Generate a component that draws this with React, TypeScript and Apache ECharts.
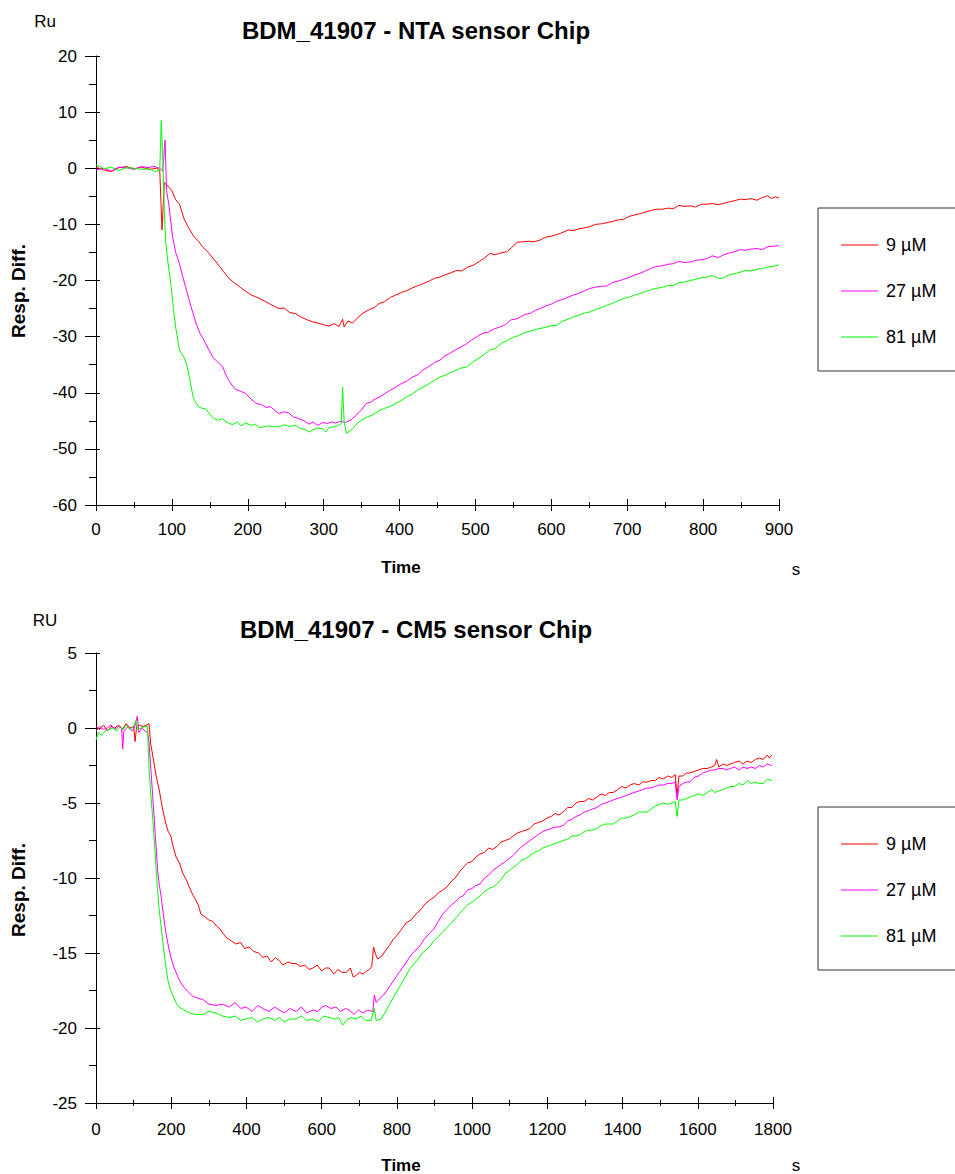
import React, { useEffect, useRef } from "react";
import * as echarts from "echarts";

// ---------- DATA ----------
const seriesNames = ["9 µM", "27 µM", "81 µM"];
const seriesColors = ["#ff0000", "#ff00ff", "#00ff00"];
const titles = ["BDM_41907 - NTA sensor Chip", "BDM_41907 - CM5 sensor Chip"];
const unitLabels = ["Ru", "RU"];

// NTA chip [time s, response]
const nta9: number[][] = [
  [0, 0.2], [10, -0.3], [20, -0.6], [30, 0.1], [40, 0.3], [50, -0.1], [60, 0.2], [70, -0.2], [80, 0.0], [84, -0.3],
  [87, -11.0], [90, -2.6], [95, -3.2], [100, -4.0], [105, -5.6], [110, -6.4], [116, -9.0], [122, -10.6], [129, -12.2],
  [135, -13.0], [141, -14.1], [148, -15.0], [154, -16.0], [160, -17.0], [168, -18.4], [175, -19.6], [182, -20.4],
  [190, -21.2], [197, -21.9], [205, -22.6], [212, -23.0], [220, -23.5], [228, -24.1], [235, -24.6], [241, -25.0],
  [248, -24.9], [255, -25.7], [263, -25.9], [270, -26.5], [278, -27.0], [286, -27.4], [293, -27.6], [300, -27.9],
  [307, -28.1], [314, -27.7], [320, -28.2], [325, -26.9], [327, -28.3], [332, -27.2], [338, -27.6], [345, -26.6],
  [352, -25.8], [360, -25.2], [367, -24.8], [373, -24.1], [380, -23.8], [388, -23.0], [395, -22.6], [403, -22.1],
  [410, -21.8], [417, -21.3], [425, -20.9], [432, -20.5], [439, -20.1], [446, -19.6], [453, -19.4], [460, -19.0],
  [468, -18.6], [475, -18.2], [482, -18.3], [490, -17.6], [497, -17.3], [505, -16.6], [512, -16.0], [519, -15.2],
  [526, -15.4], [533, -15.1], [541, -14.9], [548, -14.1], [555, -13.2], [562, -13.1], [570, -13.0], [577, -13.1],
  [585, -12.8], [592, -12.3], [600, -12.1], [607, -11.8], [614, -11.5], [622, -11.0], [629, -11.1], [636, -10.8],
  [644, -10.6], [651, -10.4], [658, -10.0], [666, -9.9], [673, -9.7], [680, -9.5], [688, -9.2], [695, -9.1],
  [702, -8.6], [710, -8.3], [717, -8.1], [724, -7.8], [732, -7.5], [739, -7.3], [746, -7.3], [754, -7.1],
  [761, -7.2], [768, -6.6], [775, -6.8], [783, -6.7], [790, -6.9], [798, -6.4], [805, -6.4], [812, -6.3],
  [820, -6.5], [826, -6.3], [834, -6.0], [841, -5.8], [849, -5.5], [856, -5.6], [863, -5.4], [871, -5.7],
  [878, -5.2], [885, -4.9], [890, -5.4], [895, -5.1], [900, -5.3],
];
const nta27: number[][] = [
  [0, -0.3], [10, 0.0], [20, -0.5], [30, 0.2], [40, 0.1], [50, -0.2], [60, 0.3], [70, 0.1], [75, 0.4], [80, 0.2],
  [84, 0.0], [88, -0.5], [91, 5.0], [93, -4.0], [96, -6.5], [101, -12.3], [105, -15.0], [110, -17.0], [114, -19.2],
  [118, -21.1], [125, -24.6], [132, -27.7], [137, -29.4], [141, -30.3], [148, -32.2], [154, -33.7], [160, -34.5],
  [167, -35.4], [171, -36.8], [175, -37.8], [180, -38.8], [184, -39.4], [190, -39.7], [197, -40.1], [204, -41.1],
  [211, -41.9], [218, -42.1], [224, -42.6], [230, -42.5], [236, -43.2], [241, -43.7], [248, -43.4], [254, -43.6],
  [260, -44.3], [267, -44.6], [274, -45.0], [281, -45.6], [286, -45.2], [292, -45.8], [299, -45.3], [305, -45.5],
  [310, -45.2], [316, -45.4], [322, -45.1], [329, -45.3], [336, -44.8], [343, -44.0], [350, -43.0], [356, -41.9],
  [362, -41.7], [368, -41.1], [373, -40.8], [380, -40.2], [387, -39.6], [395, -39.0], [402, -38.4], [410, -37.9],
  [417, -37.2], [424, -36.8], [431, -35.9], [439, -35.3], [446, -34.6], [453, -34.2], [460, -33.4], [466, -33.0],
  [473, -32.4], [480, -31.9], [487, -31.4], [495, -30.6], [502, -30.0], [510, -29.4], [517, -29.2], [525, -28.6],
  [532, -28.3], [540, -27.8], [547, -27.0], [553, -26.9], [559, -26.5], [566, -26.0], [572, -25.9], [579, -25.3],
  [585, -25.0], [592, -24.6], [600, -24.2], [607, -23.7], [614, -23.4], [622, -23.0], [629, -22.6], [636, -22.3],
  [644, -21.8], [651, -21.4], [658, -21.2], [666, -21.0], [673, -21.0], [680, -20.4], [688, -20.1], [695, -19.8],
  [702, -19.5], [710, -19.0], [717, -18.7], [724, -18.3], [732, -17.8], [739, -17.5], [746, -17.4], [754, -17.1],
  [761, -17.0], [768, -16.6], [775, -16.8], [783, -16.7], [790, -16.4], [798, -16.3], [805, -16.1], [812, -15.6],
  [820, -15.9], [826, -15.5], [834, -15.1], [841, -14.9], [849, -14.5], [856, -14.6], [863, -14.4], [871, -14.3],
  [878, -14.5], [885, -14.0], [892, -13.9], [900, -13.8],
];
const nta81: number[][] = [
  [0, 0.6], [5, 0.3], [10, -0.1], [20, 0.2], [30, -0.4], [40, 0.1], [50, 0.0], [60, -0.2], [70, -0.1], [78, -0.6],
  [84, -0.4], [86, 8.5], [88, 2.0], [90, -7.5], [92, -13.4], [95, -17.0], [99, -21.1], [102, -25.0], [105, -28.3],
  [110, -32.4], [116, -33.7], [120, -35.2], [123, -37.2], [128, -40.8], [132, -41.9], [136, -42.6], [141, -42.8],
  [145, -42.9], [150, -43.8], [155, -44.6], [161, -44.9], [167, -44.6], [171, -45.2], [175, -45.4], [180, -45.7],
  [186, -45.2], [191, -45.9], [197, -45.4], [204, -45.8], [210, -45.6], [215, -46.2], [220, -46.1], [227, -45.9],
  [234, -46.0], [241, -46.1], [248, -45.7], [255, -46.0], [263, -45.8], [270, -46.4], [277, -46.6], [281, -47.0],
  [286, -46.6], [292, -46.3], [299, -46.4], [303, -47.0], [307, -46.2], [312, -46.1], [318, -45.9], [323, -45.5],
  [325, -39.0], [327, -45.2], [330, -47.2], [335, -46.8], [341, -46.0], [346, -45.2], [352, -44.7], [358, -44.3],
  [365, -43.9], [373, -43.2], [380, -42.8], [388, -42.4], [395, -41.9], [402, -41.4], [410, -40.7], [417, -40.2],
  [424, -39.5], [431, -39.0], [439, -38.4], [446, -37.8], [453, -37.2], [460, -36.9], [467, -36.4], [474, -36.0],
  [481, -35.6], [489, -35.4], [496, -34.6], [503, -34.0], [511, -33.2], [519, -32.4], [526, -32.1], [534, -31.2],
  [542, -30.7], [550, -30.1], [557, -29.8], [563, -29.4], [570, -29.1], [576, -28.9], [583, -28.6], [590, -28.4],
  [598, -28.1], [607, -28.0], [614, -27.3], [622, -26.9], [629, -26.5], [636, -26.2], [644, -25.8], [651, -25.6],
  [658, -25.2], [666, -24.8], [673, -24.4], [680, -24.1], [688, -23.6], [695, -23.2], [702, -23.0], [710, -22.6],
  [717, -22.3], [724, -22.0], [732, -21.6], [739, -21.4], [746, -21.2], [754, -20.9], [761, -20.9], [768, -20.4],
  [775, -20.3], [783, -20.0], [790, -19.8], [798, -19.5], [805, -19.4], [812, -19.1], [820, -19.6], [826, -19.6],
  [834, -19.0], [841, -18.8], [849, -18.5], [856, -18.2], [863, -18.3], [871, -18.0], [878, -17.9], [885, -17.6],
  [892, -17.5], [900, -17.2],
];

// CM5 chip [time s, response]
const cm9: number[][] = [
  [0, 0.1], [10, -0.1], [20, 0.2], [30, -0.2], [40, 0.1], [50, 0.0], [60, 0.2], [70, -0.1], [80, 0.3], [90, 0.0],
  [100, 0.1], [104, -0.9], [108, 0.1], [115, 0.2], [125, 0.1], [135, 0.2], [141, 0.3], [145, -1.0], [152, -2.0],
  [160, -3.2], [168, -4.1], [177, -5.4], [186, -6.4], [192, -6.9], [199, -7.2], [206, -8.0], [213, -8.6], [222, -9.0],
  [231, -9.7], [240, -10.1], [248, -10.6], [257, -11.1], [266, -11.5], [272, -11.8], [279, -12.4], [290, -12.6],
  [300, -12.8], [311, -12.9], [320, -13.2], [330, -13.4], [338, -13.7], [348, -14.0], [360, -14.2], [372, -14.4],
  [385, -14.3], [395, -14.7], [407, -14.6], [420, -14.9], [432, -15.0], [444, -15.3], [455, -15.2], [466, -15.6],
  [477, -15.3], [487, -15.5], [497, -15.8], [510, -15.6], [521, -15.7], [532, -15.7], [543, -15.9], [555, -15.8],
  [566, -16.1], [577, -16.0], [588, -15.8], [600, -16.2], [610, -16.0], [620, -16.0], [632, -16.4], [643, -16.1],
  [655, -16.3], [665, -16.3], [676, -16.0], [684, -16.6], [691, -16.5], [700, -16.3], [710, -16.4], [720, -16.2],
  [727, -16.1], [733, -15.9], [738, -14.6], [742, -15.0], [749, -15.4], [760, -15.2], [771, -14.8], [780, -14.5],
  [790, -14.1], [798, -13.9], [810, -13.5], [824, -13.0], [838, -12.8], [851, -12.4], [864, -12.1], [876, -11.7],
  [886, -11.5], [898, -11.3], [910, -11.0], [922, -10.8], [933, -10.6], [945, -10.2], [955, -10.0], [966, -9.6],
  [976, -9.3], [988, -9.0], [1000, -8.9], [1010, -8.6], [1021, -8.4], [1033, -8.3], [1044, -8.0], [1055, -8.1],
  [1066, -7.9], [1077, -7.6], [1088, -7.5], [1099, -7.4], [1109, -7.2], [1120, -7.0], [1132, -6.9], [1143, -6.8],
  [1154, -6.7], [1165, -6.4], [1176, -6.3], [1188, -6.2], [1199, -6.0], [1210, -5.9], [1220, -5.7], [1231, -5.8],
  [1242, -5.6], [1254, -5.3], [1265, -5.3], [1276, -5.0], [1287, -4.9], [1298, -4.9], [1310, -4.7], [1320, -4.8],
  [1332, -4.6], [1343, -4.4], [1354, -4.5], [1365, -4.3], [1375, -4.3], [1387, -4.1], [1398, -3.9], [1409, -4.0],
  [1420, -3.8], [1431, -3.7], [1443, -3.8], [1454, -3.6], [1465, -3.6], [1476, -3.5], [1487, -3.5], [1497, -3.3],
  [1508, -3.4], [1520, -3.2], [1531, -3.3], [1540, -3.1], [1545, -4.5], [1550, -3.2], [1560, -3.2], [1570, -3.0],
  [1579, -3.0], [1590, -2.9], [1602, -2.8], [1613, -2.7], [1625, -2.7], [1636, -2.6], [1645, -2.5], [1650, -2.1],
  [1656, -2.6], [1667, -2.4], [1677, -2.5], [1686, -2.4], [1698, -2.3], [1710, -2.2], [1720, -2.4], [1731, -2.2],
  [1742, -2.3], [1753, -2.1], [1764, -2.0], [1774, -2.1], [1785, -1.8], [1790, -2.0], [1797, -1.8],
];
const cm27: number[][] = [
  [0, -0.2], [10, 0.1], [20, -0.1], [30, 0.0], [40, 0.2], [50, -0.1], [60, 0.1], [68, 0.0], [71, -1.4], [74, -0.2],
  [85, 0.1], [95, -0.2], [102, 0.0], [110, 0.8], [114, -0.3], [122, 0.0], [130, -0.2], [137, -0.3], [141, -1.0],
  [146, -2.8], [151, -4.6], [155, -6.1], [160, -8.0], [164, -9.5], [168, -10.4], [173, -11.2], [180, -12.6],
  [186, -13.7], [193, -14.6], [199, -15.3], [208, -16.0], [218, -16.6], [226, -17.0], [234, -17.3], [246, -17.6],
  [258, -17.9], [270, -18.0], [284, -18.1], [300, -18.4], [319, -18.5], [335, -18.4], [354, -18.6], [370, -18.3],
  [385, -18.7], [399, -18.6], [415, -18.9], [430, -18.5], [444, -18.7], [460, -18.9], [475, -18.6], [487, -18.8],
  [500, -19.0], [515, -18.7], [532, -18.9], [546, -18.6], [560, -19.0], [577, -18.8], [590, -18.9], [600, -18.6],
  [611, -18.5], [625, -18.7], [638, -18.6], [650, -18.9], [663, -18.7], [673, -18.8], [686, -19.1], [698, -18.8],
  [710, -19.0], [722, -18.8], [736, -18.9], [740, -17.8], [745, -18.3], [752, -18.1], [765, -17.8], [779, -17.3],
  [792, -16.8], [806, -16.3], [820, -15.8], [833, -15.3], [846, -14.9], [859, -14.6], [872, -14.1], [886, -13.7],
  [898, -13.4], [910, -12.9], [922, -12.4], [933, -12.1], [945, -11.8], [955, -11.6], [966, -11.3], [976, -11.2],
  [988, -10.8], [1000, -10.7], [1010, -10.5], [1021, -10.4], [1033, -10.0], [1044, -9.8], [1055, -9.5], [1066, -9.3],
  [1077, -9.1], [1088, -8.9], [1099, -8.7], [1109, -8.5], [1120, -8.2], [1132, -7.9], [1143, -7.7], [1154, -7.5],
  [1165, -7.3], [1176, -7.1], [1188, -6.9], [1199, -6.8], [1210, -6.7], [1220, -6.6], [1231, -6.6], [1242, -6.5],
  [1254, -6.2], [1265, -6.1], [1276, -5.9], [1287, -5.8], [1298, -5.6], [1310, -5.5], [1320, -5.4], [1332, -5.3],
  [1343, -5.1], [1354, -5.0], [1365, -4.9], [1375, -4.8], [1387, -4.7], [1398, -4.6], [1409, -4.5], [1420, -4.4],
  [1431, -4.3], [1443, -4.2], [1454, -4.1], [1465, -4.0], [1476, -4.0], [1487, -3.9], [1497, -3.8], [1508, -3.8],
  [1520, -3.7], [1531, -3.7], [1540, -3.6], [1545, -4.8], [1550, -3.9], [1560, -3.7], [1570, -3.6], [1579, -3.6],
  [1590, -3.3], [1602, -3.2], [1613, -3.0], [1625, -2.9], [1636, -2.8], [1645, -2.8], [1656, -2.7], [1667, -2.7],
  [1677, -2.8], [1686, -2.7], [1698, -2.6], [1710, -2.8], [1720, -2.6], [1731, -2.7], [1742, -2.6], [1753, -2.7],
  [1764, -2.5], [1774, -2.6], [1785, -2.4], [1797, -2.5],
];
const cm81: number[][] = [
  [0, -0.8], [6, -0.3], [15, -0.5], [25, -0.2], [35, -0.1], [45, 0.0], [55, -0.2], [65, 0.1], [72, -0.1], [80, 0.2],
  [90, -0.1], [100, 0.1], [106, 0.5], [110, -0.1], [120, 0.0], [130, 0.1], [137, 0.1], [141, -2.8], [146, -4.5],
  [151, -6.1], [156, -7.9], [160, -9.5], [164, -10.9], [168, -12.1], [173, -13.2], [177, -14.1], [184, -15.6],
  [191, -16.8], [197, -17.4], [204, -17.8], [212, -18.3], [221, -18.6], [234, -18.8], [248, -19.0], [265, -19.1],
  [284, -19.1], [300, -18.9], [319, -19.0], [336, -19.2], [354, -19.3], [370, -19.2], [385, -19.5], [399, -19.4],
  [415, -19.3], [430, -19.6], [444, -19.4], [460, -19.3], [475, -19.5], [487, -19.3], [500, -19.6], [515, -19.4],
  [532, -19.4], [546, -19.2], [560, -19.5], [577, -19.4], [590, -19.6], [605, -19.2], [620, -19.3], [635, -19.4],
  [645, -19.3], [656, -19.8], [665, -19.5], [678, -19.3], [691, -19.4], [705, -19.2], [718, -19.5], [731, -19.5],
  [740, -18.7], [745, -19.5], [758, -19.4], [768, -19.0], [779, -18.5], [792, -17.9], [806, -17.3], [820, -16.7],
  [833, -16.1], [846, -15.7], [859, -15.3], [872, -14.9], [886, -14.6], [898, -14.2], [910, -13.9], [922, -13.6],
  [933, -13.3], [945, -13.0], [955, -12.7], [966, -12.4], [976, -12.1], [988, -11.8], [1000, -11.6], [1010, -11.4],
  [1021, -11.2], [1033, -10.9], [1044, -10.7], [1055, -10.6], [1066, -10.4], [1077, -10.1], [1088, -9.7], [1099, -9.5],
  [1109, -9.3], [1120, -9.1], [1132, -8.8], [1143, -8.7], [1154, -8.5], [1165, -8.3], [1176, -8.2], [1188, -8.0],
  [1199, -7.9], [1210, -7.8], [1220, -7.7], [1231, -7.6], [1242, -7.5], [1254, -7.4], [1265, -7.2], [1276, -7.2],
  [1287, -7.1], [1298, -6.9], [1310, -6.8], [1320, -6.8], [1332, -6.7], [1343, -6.5], [1354, -6.4], [1365, -6.4],
  [1375, -6.4], [1387, -6.2], [1398, -6.0], [1409, -6.0], [1420, -5.9], [1431, -5.8], [1443, -5.6], [1454, -5.6],
  [1465, -5.6], [1476, -5.4], [1487, -5.2], [1497, -5.1], [1508, -5.0], [1520, -5.1], [1531, -5.0], [1540, -4.9],
  [1545, -5.9], [1550, -4.8], [1560, -4.8], [1570, -4.7], [1579, -4.6], [1590, -4.5], [1602, -4.4], [1613, -4.5],
  [1625, -4.3], [1636, -4.1], [1645, -4.3], [1656, -4.2], [1667, -4.1], [1677, -4.0], [1686, -3.9], [1698, -3.9],
  [1710, -3.7], [1720, -3.8], [1731, -3.5], [1742, -3.7], [1753, -3.6], [1764, -3.7], [1774, -3.7], [1785, -3.4],
  [1797, -3.5],
];

// axis ranges
const xRanges = [{ max: 900, interval: 100 }, { max: 1800, interval: 200 }];
const yRanges = [{ min: -60, max: 20, interval: 10 }, { min: -25, max: 5, interval: 5 }];

const FONT = "'Liberation Sans', Arial, Helvetica, sans-serif";

export default function App() {
  const ref = useRef<HTMLDivElement>(null);
  useEffect(() => {
    document.body.style.margin = "0";
    if (!ref.current) return;
    const chart = echarts.init(ref.current, undefined, { renderer: "svg" });

    const grids = [
      { left: 96, top: 56, width: 683, height: 449 },
      { left: 96, top: 653, width: 677, height: 450 },
    ];
    const labelMarginsX = [16, 18];
    const fmt = (v: number) => String(v);

    const xAxis: any[] = [];
    const yAxis: any[] = [];
    grids.forEach((_, g) => {
      const xr = xRanges[g];
      const yr = yRanges[g];
      const common = { type: "value", gridIndex: g, splitLine: { show: false }, minorSplitLine: { show: false } };
      xAxis.push({
        ...common, min: 0, max: xr.max, interval: xr.interval,
        axisLine: { show: true, onZero: false, lineStyle: { color: "#000", width: 1 } },
        axisTick: { show: true, length: 6, lineStyle: { color: "#000" } },
        minorTick: { show: true, splitNumber: 2, length: 3, lineStyle: { color: "#000" } },
        axisLabel: { color: "#000", fontSize: 17, fontFamily: FONT, margin: labelMarginsX[g], formatter: fmt },
      });
      xAxis.push({
        ...common, min: 0, max: xr.max, interval: xr.interval, position: "bottom",
        axisLine: { show: false, onZero: false },
        axisTick: { show: true, inside: true, length: 6, lineStyle: { color: "#000" } },
        minorTick: { show: true, splitNumber: 2, length: 3, lineStyle: { color: "#000" } },
        axisLabel: { show: false },
      });
      yAxis.push({
        ...common, min: yr.min, max: yr.max, interval: yr.interval,
        axisLine: { show: true, onZero: false, lineStyle: { color: "#000", width: 1 } },
        axisTick: { show: true, length: 11, lineStyle: { color: "#000" } },
        minorTick: { show: true, splitNumber: 2, length: 7, lineStyle: { color: "#000" } },
        axisLabel: { color: "#000", fontSize: 17, fontFamily: FONT, margin: 19, formatter: fmt },
      });
      yAxis.push({
        ...common, min: yr.min, max: yr.max, interval: yr.interval, position: "left",
        axisLine: { show: false, onZero: false },
        axisTick: { show: true, inside: true, length: 4, lineStyle: { color: "#000" } },
        minorTick: { show: false },
        axisLabel: { show: false },
      });
    });

    const datasets = [[nta9, nta27, nta81], [cm9, cm27, cm81]];
    const series: any[] = [];
    datasets.forEach((set, g) => {
      set.forEach((d, i) => {
        series.push({
          type: "line", name: seriesNames[i], data: d,
          xAxisIndex: g * 2, yAxisIndex: g * 2,
          symbol: "none", showSymbol: false,
          lineStyle: { color: seriesColors[i], width: 1 },
          itemStyle: { color: seriesColors[i] },
          emphasis: { disabled: true },
        });
      });
    });

    const legendTops = [208, 807];
    const legend = legendTops.map((top) => ({
      orient: "vertical", left: 818, top,
      data: seriesNames.map((n) => ({ name: n, icon: "rect" })),
      borderWidth: 0,
      padding: [28, 10, 27, 23],
      itemWidth: 37, itemHeight: 1, itemGap: 28,
      textStyle: { color: "#000", fontSize: 18, fontFamily: FONT, lineHeight: 14, padding: [0, 0, 0, 3] },
      selectedMode: false,
    }));

    const txt = (text: string, x: number, y: number, font: string, extra: any = {}) => ({
      type: "text", x, y, ...extra,
      style: { text, font, fill: "#000", align: "center", verticalAlign: "middle", textAlign: "center", textVerticalAlign: "middle" },
    });
    const graphic: any[] = [];
    const offs = [0, 599];
    [0, 1].forEach((g) => {
      const o = offs[g];
      graphic.push(txt(titles[g], 416, 30 + o, `bold 24px ${FONT}`));
      graphic.push(txt(unitLabels[g], 45, 21 + o, `17px ${FONT}`));
      graphic.push(txt("Resp. Diff.", 18, 291 + o, `bold 19px ${FONT}`, { rotation: Math.PI / 2 }));
      graphic.push(txt("Time", 401, 567 + o - (g ? 1 : 0), `bold 17px ${FONT}`));
      graphic.push(txt("s", 796, 569 + o - (g ? 3 : 0), `17px ${FONT}`));
      graphic.push({
        type: "rect", shape: { x: 818, y: legendTops[g], width: 200, height: 163 },
        style: { fill: "none", stroke: "#333", lineWidth: 1 }, silent: true,
      });
    });

    chart.setOption({
      animation: false,
      backgroundColor: "#fff",
      grid: grids,
      xAxis, yAxis, series, legend, graphic,
    });
    return () => chart.dispose();
  }, []);
  return <div ref={ref} style={{ width: 955, height: 1174 }} />;
}
